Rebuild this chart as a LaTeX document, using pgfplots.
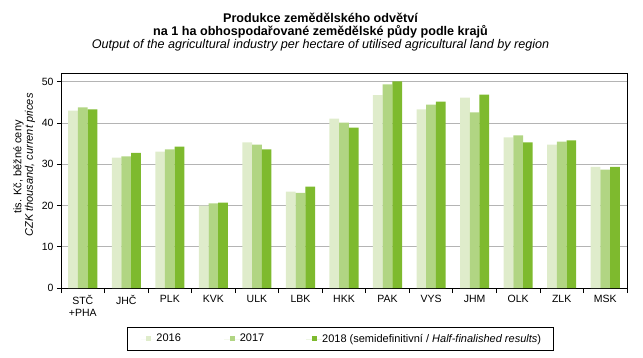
\documentclass[border=0pt]{standalone}
\usepackage{fontspec}
\setmainfont{Liberation Sans}
\usepackage{pgfplots}
\pgfplotsset{compat=1.18}
\definecolor{c16}{HTML}{DFECCB}
\definecolor{c17}{HTML}{B1D583}
\definecolor{c18}{HTML}{7EBA2E}
\definecolor{gridc}{HTML}{B4B4B4}
\begin{document}
\begin{tikzpicture}
\useasboundingbox (-61bp,-70bp) rectangle (582bp,288bp);
\begin{axis}[
  at={(0,0)}, anchor=south west,
  scale only axis, width=566bp, height=214bp,
  ybar=0pt, bar width=9.7bp,
  xmin=-0.5, xmax=12.5, ymin=0, ymax=51.9,
  xtick={0,...,12},
  xticklabels={{STČ\\+PHA},JHČ,PLK,KVK,ULK,LBK,HKK,PAK,VYS,JHM,OLK,ZLK,MSK},
  xticklabel style={align=center, font=\fontsize{10.5bp}{12.3bp}\selectfont},
  minor xtick={-0.5,0.5,...,12.5},
  major x tick style={draw=none},
  minor x tick style={black, line width=0.8bp},
  minor tick length=5bp,
  major tick length=4bp,
  tick align=outside,
  ytick={0,10,...,50},
  yticklabel style={font=\fontsize{10.5bp}{12bp}\selectfont},
  /pgf/number format/assume math mode=true,
  major y tick style={black, line width=0.8bp},
  ymajorgrids, grid style={gridc, line width=0.9bp},
  axis line style={black, line width=1bp},
  tick pos=left,
  legend columns=3,
  legend style={at={(axis description cs:0.4938,-0.2369)}, anchor=center,
    draw=black, line width=0.8bp, inner xsep=13.6bp, inner ysep=6.8bp,
    nodes={inner sep=0pt},
    font=\fontsize{11bp}{13bp}\selectfont},
  legend image code/.code={%
    \path (0bp,0bp) rectangle (15.7bp,0bp);
    \fill[#1] (5.7bp,-2.5bp) rectangle (10.7bp,2.5bp);},
]
\addplot[fill=c16, draw=none] coordinates {(0,43.0) (1,31.6) (2,33.1) (3,20.0) (4,35.3) (5,23.4) (6,41.1) (7,46.8) (8,43.3) (9,46.2) (10,36.5) (11,34.8) (12,29.4)};
\addplot[fill=c17, draw=none] coordinates {(0,43.8) (1,31.9) (2,33.6) (3,20.5) (4,34.8) (5,23.1) (6,40.1) (7,49.4) (8,44.5) (9,42.6) (10,37.0) (11,35.5) (12,28.7)};
\addplot[fill=c18, draw=none] coordinates {(0,43.3) (1,32.8) (2,34.3) (3,20.7) (4,33.6) (5,24.6) (6,38.9) (7,50.1) (8,45.2) (9,46.9) (10,35.3) (11,35.8) (12,29.4)};
\addlegendentry{\makebox[67.6bp][l]{2016}}
\addlegendentry{\makebox[66.7bp][l]{2017}}
\addlegendentry{\makebox[218bp][l]{2018 (semidefinitivní / \textit{Half-finalished results})}}
\end{axis}
\node[font=\bfseries\fontsize{12.6bp}{15bp}\selectfont, anchor=base] at (259.5bp,265.5bp) {Produkce zemědělského odvětví};
\node[font=\bfseries\fontsize{12.6bp}{15bp}\selectfont, anchor=base] at (259.5bp,252bp) {na 1 ha obhospodařované zemědělské půdy podle krajů};
\node[font=\itshape\fontsize{12.6bp}{15bp}\selectfont, anchor=base] at (259.5bp,239.3bp) {Output of the agricultural industry per hectare of utilised agricultural land by region};
\node[font=\fontsize{11bp}{12bp}\selectfont, rotate=90] at (-42.5bp,121bp) {tis. Kč, běžné ceny};
\node[font=\itshape\fontsize{11bp}{12bp}\selectfont, rotate=90] at (-31bp,123bp) {CZK thousand, current prices};
\end{tikzpicture}
\end{document}
